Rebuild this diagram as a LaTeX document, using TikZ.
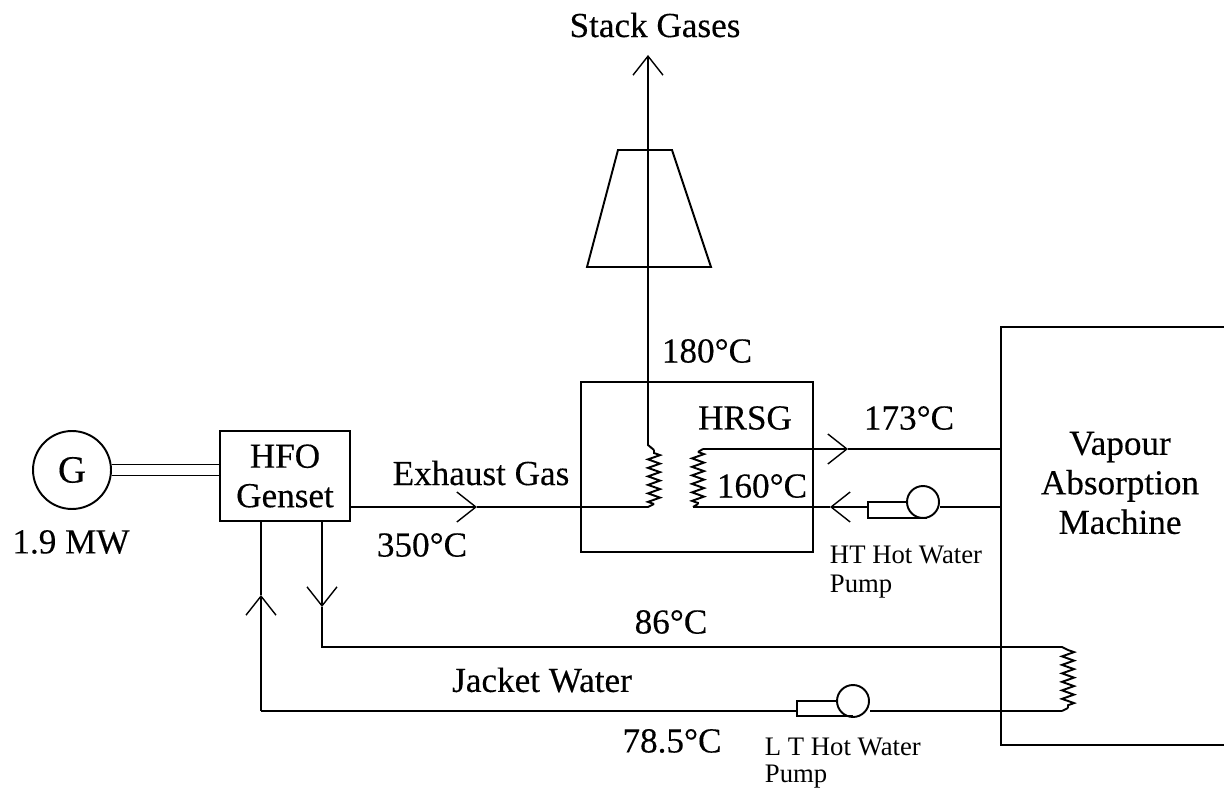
\documentclass[tikz,border=0pt]{standalone}
\usepackage{fontspec}
\setmainfont[FakeBold=0.25]{Liberation Serif}
\newfontfamily\thinfont{Liberation Serif}
\usetikzlibrary{arrows.meta,decorations.pathmorphing}
\tikzset{
    lbl/.style={font=\fontsize{20}{22.5}\selectfont, inner sep=0pt, align=center},
    pumplbl/.style={font=\thinfont\fontsize{15.2}{18}\selectfont, inner sep=0pt, anchor=west},
    coil/.style={decorate, decoration={zigzag, amplitude=0.12cm, segment length=0.17cm}},
    pumpcirc/.style={draw, circle, minimum size=0.64cm, inner sep=0pt},
}
\begin{document}
\begin{tikzpicture}[x=0.02cm, y=-0.02cm, line width=1.1pt, >={Straight Barb[length=0.38cm, width=0.6cm, line width=0.8pt]}]
    \useasboundingbox (0,0) rectangle (1224,790);

    % generator and genset
    \node[draw, circle, minimum size=1.56cm, inner sep=0pt, font=\fontsize{22}{22}\selectfont] (gen) at (72,470) {G};
    \node[draw, lbl, minimum width=2.6cm, minimum height=1.8cm] (genset) at (285,476) {HFO\\Genset};
    \node[lbl] (power) at (71,542) {1.9 MW};
    \draw ([yshift=0.11cm]gen.east) -- ([yshift=0.11cm]gen.east -| genset.west);
    \draw ([yshift=-0.11cm]gen.east) -- ([yshift=-0.11cm]gen.east -| genset.west);

    % hrsg
    \node[draw, minimum width=4.64cm, minimum height=3.4cm] (hrsg) at (697,467) {};
    \node[lbl] (hrsgname) at (745,418) {HRSG};

    % absorption machine
    \coordinate (vamtr) at (1224,327);
    \coordinate (vamtl) at (1001,327);
    \coordinate (vambl) at (1001,745);
    \coordinate (vambr) at (1224,745);
    \draw (vamtr) -- (vamtl) -- (vambl) -- (vambr);
    \node[lbl] (vam) at (1120,483) {Vapour\\Absorption\\Machine};

    % exhaust and stack
    \coordinate (ex1) at (477,507);
    \coordinate (ex2) at (648,507);
    \coordinate (c1a) at (654,450);
    \coordinate (c1b) at (654,504);
    \coordinate (st1) at (648,445);
    \coordinate (st2) at (648,55);
    \draw[->] (genset.east |- ex1) -- (ex1);
    \draw (ex1) -- (ex2) -- (c1b);
    \draw[coil] (c1b) -- (c1a);
    \draw[->] (c1a) -- (st1) -- (st2);
    \draw (618,150) -- (672,150) -- (711,267) -- (587,267) -- cycle;

    % hot water loop
    \coordinate (c2a) at (698,452);
    \coordinate (c2b) at (698,504);
    \coordinate (hw1) at (703,449);
    \coordinate (hw2) at (848,449);
    \coordinate (hw3) at (1001,449);
    \coordinate (hw4) at (693,507);
    \coordinate (hw5) at (830,507);
    \draw[coil] (c2a) -- (c2b);
    \draw (c2a) -- (hw1);
    \draw[->] (hw1) -- (hw2);
    \draw (hw2) -- (hw3);
    \draw (c2b) -- (hw4);
    \node[pumpcirc] (htpump) at (923,502) {};
    \draw (htpump.west) -- (868,502) -- (868,518) -- (927,518);
    \draw (hw3 |- hw4) -- (htpump.east |- hw4);
    \draw[->] (868,507) -- (hw5);
    \draw (hw5) -- (hw4);

    % jacket water loop
    \coordinate (c3a) at (1068,650);
    \coordinate (c3b) at (1068,708);
    \coordinate (jw1) at (322,607);
    \coordinate (jw2) at (322,647);
    \coordinate (jw3) at (1062,647);
    \coordinate (jw4) at (1062,711);
    \coordinate (jw5) at (261,711);
    \coordinate (jw6) at (261,595);
    \draw[->] (jw1 |- genset.south) -- (jw1);
    \draw (jw1) -- (jw2) -- (jw3) -- (c3a);
    \draw[coil] (c3a) -- (c3b);
    \draw (c3b) -- (jw4);
    \node[pumpcirc] (ltpump) at (853,701) {};
    \draw (ltpump.west) -- (797,701) -- (797,716) -- (853,716);
    \draw (jw4) -- (ltpump.east |- jw4);
    \draw (797,711) -- (jw5);
    \draw[->] (jw5) -- (jw6);
    \draw (jw6) -- (jw6 |- genset.south);

    % labels
    \node[lbl] (stack) at (655,25) {Stack Gases};
    \node[lbl] (t180) at (707,351) {180°C};
    \node[lbl] (t173) at (909,418) {173°C};
    \node[lbl] (t160) at (762,486) {160°C};
    \node[lbl] (t350) at (422,545) {350°C};
    \node[lbl] (t86) at (671,622) {86°C};
    \node[lbl] (t785) at (672,741) {78.5°C};
    \node[lbl] (exlbl) at (481,473) {Exhaust Gas};
    \node[lbl] (jwlbl) at (542,680) {Jacket Water};
    \node[pumplbl] (htname) at (829,555) {HT Hot Water};
    \node[pumplbl] (htname2) at (829,587) {Pump};
    \node[pumplbl] (ltname) at (764,747) {L T Hot Water};
    \node[pumplbl] (ltname2) at (764,777) {Pump};
\end{tikzpicture}
\end{document}
